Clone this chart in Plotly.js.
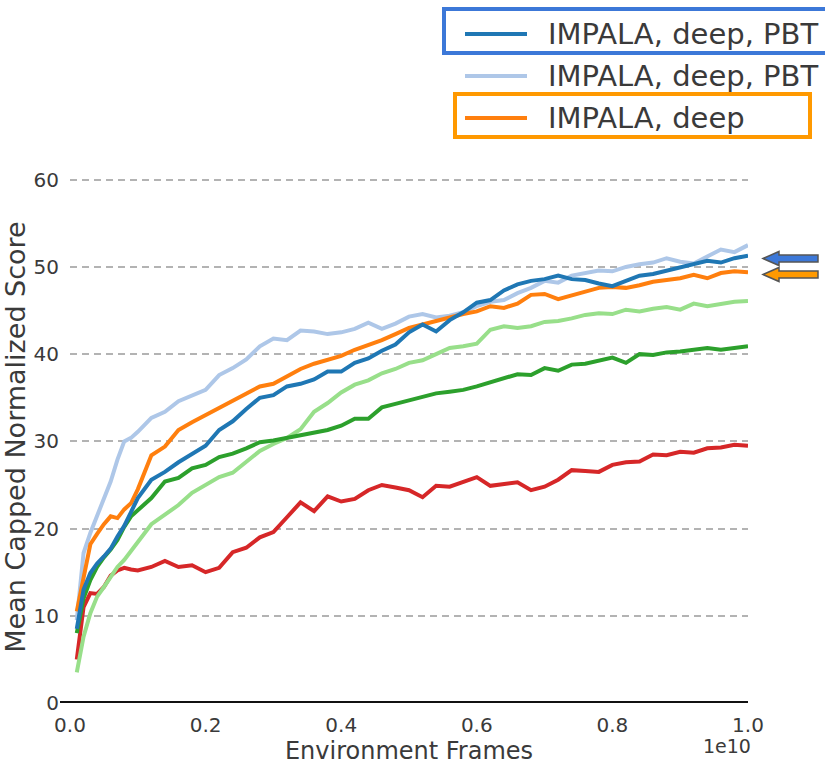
<!DOCTYPE html>
<html>
<head>
<meta charset="utf-8">
<script src="https://cdn.plot.ly/plotly-3.0.1.min.js"></script>
<style>
html,body{margin:0;padding:0;background:#ffffff;}
#chart{width:825px;height:765px;}
</style>
</head>
<body>
<div id="chart"></div>
<script>
// ---- data (x in units of 1e10 environment frames) ----
const frames = [0.01,0.02,0.03,0.04,0.05,0.06,0.07,0.08,0.09,0.10,
  0.12,0.14,0.16,0.18,0.20,0.22,0.24,0.26,
  0.28,0.30,0.32,0.34,0.36,0.38,0.40,0.42,0.44,0.46,0.48,0.50,0.52,0.54,0.56,0.58,0.60,0.62,
  0.64,0.66,0.68,0.70,0.72,0.74,0.76,0.78,0.80,0.82,0.84,0.86,0.88,0.90,0.92,0.94,0.96,0.98,1.00];

const deepPbt = [8.5,13.0,14.9,16.0,16.8,17.7,19.1,20.3,21.9,23.5,
  25.6,26.5,27.6,28.5,29.5,31.3,32.3,33.7,
  35.0,35.3,36.3,36.6,37.1,38.0,38.0,39.0,39.5,40.4,41.1,42.5,43.4,42.6,43.9,44.8,45.9,46.2,
  47.3,48.0,48.4,48.6,49.0,48.6,48.5,48.1,47.8,48.4,49.0,49.2,49.6,49.9,50.3,50.7,50.5,51.0,51.3];

const deepPbtLight = [9.5,17.2,19.5,21.4,23.3,25.4,27.9,30.0,30.4,31.1,
  32.7,33.4,34.6,35.3,35.9,37.6,38.4,39.4,
  40.9,41.8,41.6,42.7,42.6,42.3,42.5,42.9,43.6,42.9,43.5,44.3,44.6,44.2,44.4,44.8,45.5,46.0,
  46.2,47.0,47.6,48.4,48.2,49.0,49.3,49.6,49.5,50.0,50.3,50.5,51.0,50.6,50.4,51.2,52.0,51.7,52.5];

const deep = [10.5,14.5,18.2,19.4,20.5,21.4,21.2,22.2,22.9,24.5,
  28.4,29.4,31.3,32.2,33.0,33.8,34.7,35.5,
  36.3,36.6,37.4,38.3,38.9,39.3,39.8,40.5,41.0,41.6,42.3,43.0,43.4,43.8,44.3,44.6,44.9,45.5,
  45.3,45.8,46.8,46.9,46.3,46.7,47.1,47.6,47.7,47.6,47.9,48.3,48.5,48.7,49.1,48.7,49.3,49.5,49.4];

const greenSeries = [8.0,12.0,14.1,15.6,16.7,17.6,18.7,20.2,21.4,22.1,
  23.5,25.4,25.8,26.9,27.3,28.2,28.6,29.2,
  29.9,30.1,30.4,30.6,31.0,31.3,31.8,32.6,32.6,33.9,34.3,34.7,35.0,35.5,35.7,35.9,36.3,36.8,
  37.3,37.7,37.6,38.4,38.1,38.8,38.9,39.3,39.6,39.0,40.0,39.9,40.2,40.3,40.5,40.7,40.5,40.7,40.9];

const lightGreenSeries = [3.5,7.6,10.3,12.2,13.3,14.5,15.6,16.4,17.4,18.5,
  20.5,21.6,22.7,24.1,25.0,25.9,26.4,27.7,
  28.9,29.7,30.4,31.4,33.4,34.4,35.6,36.5,37.0,37.8,38.3,39.0,39.3,40.0,40.7,40.9,41.2,42.8,
  43.2,43.0,43.2,43.7,43.8,44.1,44.5,44.7,44.6,45.1,44.9,45.2,45.4,45.1,45.8,45.5,45.8,46.0,46.1];

const redSeries = [5.0,11.0,12.6,12.5,13.3,14.6,15.2,15.5,15.3,15.2,
  15.6,16.3,15.6,15.8,15.0,15.5,17.3,17.8,
  19.0,19.6,21.3,23.0,22.0,23.7,23.1,23.4,24.4,25.0,24.7,24.4,23.6,24.9,24.8,25.4,25.9,24.9,
  25.1,25.3,24.4,24.8,25.6,26.7,26.6,26.5,27.3,27.6,27.7,28.5,28.4,28.8,28.7,29.2,29.3,29.6,29.5];

const legendLabels = ["IMPALA, deep, PBT", "IMPALA, deep, PBT", "IMPALA, deep"];
const yTicks = [0, 10, 20, 30, 40, 50, 60];
const xTicks = [0.0, 0.2, 0.4, 0.6, 0.8, 1.0];
const xTickText = ["0.0", "0.2", "0.4", "0.6", "0.8", "1.0"];
const xExponentLabel = "1e10";
const xTitle = "Environment Frames";
const yTitle = "Mean Capped Normalized Score";

// ---- styling ----
const C = {
  dark: '#1f77b4', light: '#aec7e8', orange: '#ff7f0e',
  green: '#2ca02c', lgreen: '#98df8a', red: '#d62728',
  text: '#3a3a3a', grid: '#b3b3b3', boxBlue: '#3c78d8', boxOrange: '#ff9900'
};
const FONT = 'DejaVu Sans, Liberation Sans, sans-serif';

// plot area in pixels
const L = 70, R = 748, T = 171, B = 703;
const px = x => (x - L) / (R - L);
const py = y => (B - y) / (B - T);

function line(y, color, name) {
  return { x: frames, y: y, type: 'scatter', mode: 'lines', name: name,
    line: { color: color, width: 4 }, showlegend: false, hoverinfo: 'skip' };
}

const traces = [
  line(deepPbtLight, C.light, legendLabels[1]),
  line(redSeries, C.red, 'red'),
  line(lightGreenSeries, C.lgreen, 'light green'),
  line(greenSeries, C.green, 'green'),
  line(deep, C.orange, legendLabels[2]),
  line(deepPbt, C.dark, legendLabels[0])
];

// legend (manual, matplotlib style)
const legendRows = [
  { y: 34, color: C.dark, text: legendLabels[0] },
  { y: 76, color: C.light, text: legendLabels[1] },
  { y: 118, color: C.orange, text: legendLabels[2] }
];

const shapes = [];
const annotations = [];
legendRows.forEach(r => {
  shapes.push({ type: 'line', xref: 'paper', yref: 'paper',
    x0: px(465), x1: px(527), y0: py(r.y), y1: py(r.y),
    line: { color: r.color, width: 4 } });
  annotations.push({ xref: 'paper', yref: 'paper', x: px(546), y: py(r.y),
    xanchor: 'left', yanchor: 'middle', showarrow: false, text: r.text,
    font: { family: FONT, size: 29, color: C.text } });
});

// highlight boxes
shapes.push({ type: 'rect', xref: 'paper', yref: 'paper',
  x0: px(444), x1: px(832), y0: py(53), y1: py(9),
  line: { color: C.boxBlue, width: 4 }, fillcolor: 'rgba(0,0,0,0)' });
shapes.push({ type: 'rect', xref: 'paper', yref: 'paper',
  x0: px(455), x1: px(810), y0: py(137), y1: py(94),
  line: { color: C.boxOrange, width: 4 }, fillcolor: 'rgba(0,0,0,0)' });

// arrows
function arrowPath(cy) {
  const tip = 763, head = 779, tail = 818, hh = 7, sh = 3.5;
  const pts = [[tip, cy], [head, cy - hh], [head, cy - sh], [tail, cy - sh],
               [tail, cy + sh], [head, cy + sh], [head, cy + hh]];
  return 'M ' + pts.map(p => px(p[0]).toFixed(5) + ',' + py(p[1]).toFixed(5)).join(' L ') + ' Z';
}
shapes.push({ type: 'path', xref: 'paper', yref: 'paper', path: arrowPath(258.5),
  fillcolor: C.boxBlue, line: { color: '#555555', width: 1.5 } });
shapes.push({ type: 'path', xref: 'paper', yref: 'paper', path: arrowPath(274.5),
  fillcolor: C.boxOrange, line: { color: '#555555', width: 1.5 } });

// x-axis baseline (extends slightly left of the plot like the original)
shapes.push({ type: 'line', xref: 'paper', yref: 'y', x0: px(60), x1: 1, y0: 0, y1: 0,
  line: { color: '#111111', width: 4 }, layer: 'above' });

// exponent label
annotations.push({ xref: 'paper', yref: 'paper', x: px(727), y: py(746),
  xanchor: 'center', yanchor: 'middle', showarrow: false, text: xExponentLabel,
  font: { family: FONT, size: 19, color: C.text } });

const layout = {
  width: 825, height: 765,
  margin: { l: L, r: 825 - R, t: T, b: 765 - B, pad: 0 },
  paper_bgcolor: '#ffffff', plot_bgcolor: '#ffffff',
  font: { family: FONT, color: C.text },
  showlegend: false,
  xaxis: {
    range: [0, 1.0], tickvals: xTicks, ticktext: xTickText,
    showgrid: false, zeroline: false, showline: false,
    ticks: '', ticklabelstandoff: 8,
    tickfont: { family: FONT, size: 20, color: C.text },
    title: { text: xTitle, font: { family: FONT, size: 24, color: C.text }, standoff: 5 },
    automargin: false, fixedrange: true
  },
  yaxis: {
    range: [0, 61], tickvals: yTicks,
    showgrid: true, gridcolor: C.grid, gridwidth: 2, griddash: '7px,5px',
    zeroline: false, showline: false, ticks: '', ticklabelstandoff: 10,
    tickfont: { family: FONT, size: 20, color: C.text },
    title: { text: yTitle, font: { family: FONT, size: 27, color: C.text }, standoff: 4 },
    automargin: false, fixedrange: true
  },
  shapes: shapes,
  annotations: annotations
};

Plotly.newPlot('chart', traces, layout, { staticPlot: true, displayModeBar: false });
</script>
</body>
</html>
